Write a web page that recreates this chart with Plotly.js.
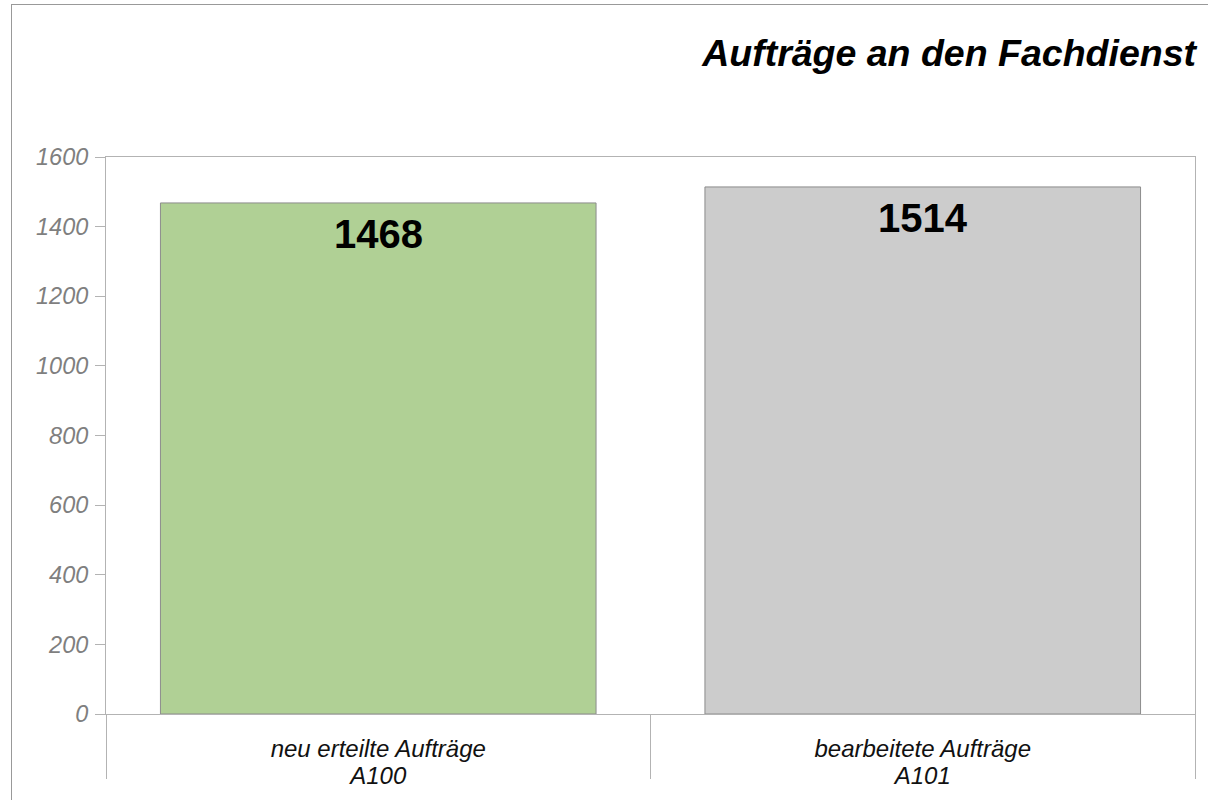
<!DOCTYPE html>
<html>
<head>
<meta charset="utf-8">
<script src="https://cdn.plot.ly/plotly-3.0.1.min.js"></script>
<style>
html,body{margin:0;padding:0;overflow:hidden;background:#fff;}
#wrap{position:relative;width:1208px;height:800px;overflow:hidden;}
#chart{width:1208px;height:800px;}
#frame{position:absolute;left:11px;top:4px;width:1300px;height:900px;border:1px solid #999;pointer-events:none;}
</style>
</head>
<body>
<div id="wrap"><div id="chart"></div><div id="frame"></div></div>
<script>
const labelLine1 = ["neu erteilte Aufträge", "bearbeitete Aufträge"];
const labelLine2 = ["A100", "A101"];
const values = [1468, 1514];
const barColors = ["#b0d095", "#cccccc"];
const yTicks = [0, 200, 400, 600, 800, 1000, 1200, 1400, 1600];
const titleText = "Aufträge an den Fachdienst";

const categories = labelLine1.map((a, i) => a + " " + labelLine2[i]);
const FONT = "Liberation Sans, Arial, sans-serif";

const mainTrace = {
  type: "bar", x: categories, y: values,
  marker: {color: barColors, line: {color: "#8c8c8c", width: 1}},
  hoverinfo: "skip", xaxis: "x", yaxis: "y"
};
const ghost = (ax) => ({
  type: "bar", x: categories, y: values,
  marker: {color: "rgba(0,0,0,0)", line: {width: 0}},
  hoverinfo: "skip", xaxis: ax, yaxis: "y"
});

const annotations = categories.map((c, i) => ({
  x: c, y: values[i], xref: "x", yref: "y",
  text: String(values[i]),
  showarrow: false,
  yanchor: "top",
  yshift: -7,
  font: {family: FONT, size: 40, color: "#000", weight: "bold"}
}));

const xLabelFont = {family: FONT, size: 24, color: "#111", style: "italic"};

const layout = {
  width: 1208, height: 800,
  margin: {l: 106, r: 13, t: 157, b: 86},
  paper_bgcolor: "#fff", plot_bgcolor: "#fff",
  showlegend: false,
  bargap: 0.2,
  title: {
    text: titleText,
    xref: "container", yref: "container",
    x: 1196/1208, xanchor: "right",
    y: 1 - 53/800, yanchor: "middle",
    font: {family: FONT, size: 37.5, color: "#000", weight: "bold", style: "italic"}
  },
  xaxis: {
    type: "category",
    showline: true, linecolor: "#b3b3b3", linewidth: 1, mirror: true,
    ticks: "outside", ticklen: 13, tickcolor: "rgba(0,0,0,0)",
    tickvals: categories, ticktext: labelLine1,
    showgrid: false, zeroline: false,
    tickfont: xLabelFont
  },
  xaxis2: {
    type: "category", overlaying: "x", matches: "x", anchor: "y",
    showline: false, showgrid: false, zeroline: false,
    ticks: "outside", tickson: "boundaries", ticklen: 64,
    tickcolor: "#b3b3b3", tickwidth: 1,
    showticklabels: false
  },
  xaxis3: {
    type: "category", overlaying: "x", matches: "x", anchor: "y",
    showline: false, showgrid: false, zeroline: false,
    ticks: "outside", ticklen: 40, tickcolor: "rgba(0,0,0,0)",
    tickvals: categories, ticktext: labelLine2,
    tickfont: xLabelFont
  },
  yaxis: {
    range: [0, 1600],
    tickvals: yTicks,
    ticktext: yTicks.map(String),
    showline: true, linecolor: "#b3b3b3", linewidth: 1, mirror: true,
    ticks: "outside", ticklen: 10, tickcolor: "#b3b3b3",
    ticklabelstandoff: 2,
    showgrid: false, zeroline: false,
    tickfont: {family: FONT, size: 23.5, color: "#7f7f7f", style: "italic"}
  },
  annotations: annotations
};

Plotly.newPlot("chart", [mainTrace, ghost("x2"), ghost("x3")], layout, {staticPlot: true, displayModeBar: false});
</script>
</body>
</html>
